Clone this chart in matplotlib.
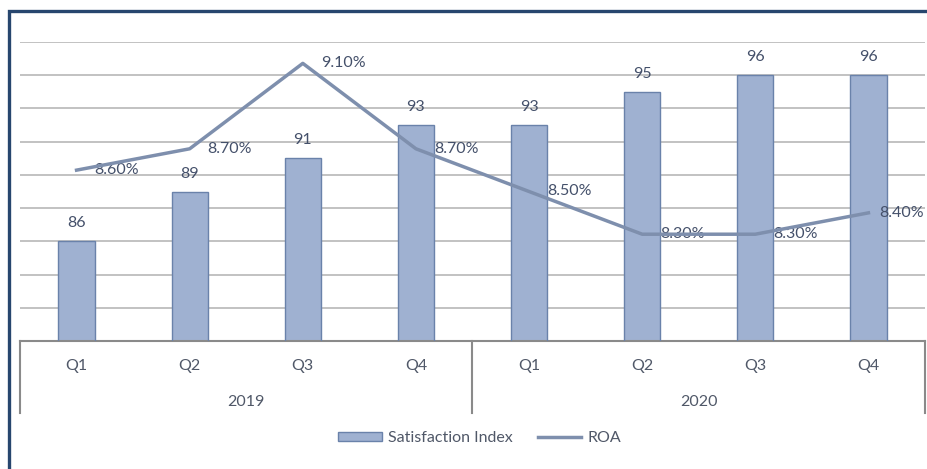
import matplotlib
matplotlib.use("Agg")
from matplotlib import pyplot as plt
from matplotlib.patches import Patch, Rectangle
from matplotlib.lines import Line2D
from matplotlib.legend_handler import HandlerTuple
import matplotlib.transforms as mtransforms

# Данные графика
quarters = ["Q1", "Q2", "Q3", "Q4", "Q1", "Q2", "Q3", "Q4"]
years = ["2019", "2020"]
satisfaction = [86, 89, 91, 93, 93, 95, 96, 96]
roa = [8.6, 8.7, 9.1, 8.7, 8.5, 8.3, 8.3, 8.4]

plt.rcParams["font.family"] = ["Lato", "DejaVu Sans"]
plt.rcParams["hatch.linewidth"] = 0.35

W, H = 928, 469
fig = plt.figure(figsize=(W / 100, H / 100), dpi=100)
fig.patch.set_facecolor("white")

# Положение области построения в пикселях
left, right, top, bottom = 20, 925, 42, 341
ax = fig.add_axes([left / W, 1 - bottom / H, (right - left) / W, (bottom - top) / H])

bar_face = "#7F96C0"
hatch_col = "#ABBBD8"
bar_edge = "#6A82AA"
line_col = "#7E8FAD"
text_col = "#44506A"
hatch = "-" * 25
fs = 11.5

x = list(range(len(satisfaction)))
ax.bar(x, satisfaction, width=0.32, color=bar_face, edgecolor=hatch_col,
       hatch=hatch, linewidth=0, zorder=2)
ax.bar(x, satisfaction, width=0.32, fill=False, edgecolor=bar_edge,
       linewidth=1.0, zorder=3)

ax.set_xlim(-0.5, len(x) - 0.5)
ax.set_ylim(80, 98)
ax.set_yticks(range(80, 99, 2))
ax.yaxis.grid(True, color="#C2C2C2", linewidth=1.4, zorder=0)
ax.set_axisbelow(True)
for s in ["top", "left", "right"]:
    ax.spines[s].set_visible(False)
ax.spines["bottom"].set_color("#8A8A8A")
ax.spines["bottom"].set_linewidth(1.5)

for xi, v in zip(x, satisfaction):
    ax.annotate(str(v), (xi, v), xytext=(0, 18), textcoords="offset pixels",
                ha="center", va="center", fontsize=fs, color=text_col)

# Подписи оси категорий
trans = mtransforms.blended_transform_factory(ax.transData, ax.transAxes)
px = 1 / (bottom - top)
for xi, q in zip(x, quarters):
    ax.text(xi, -25 * px, q, transform=trans, ha="center", va="center",
            fontsize=fs, color="#505868")
for i, yr in enumerate(years):
    ax.text(i * 4 + 1.5, -61 * px, yr, transform=trans, ha="center", va="center",
            fontsize=fs, color="#505868")
for xs in [-0.5, 3.5, 7.5]:
    ax.add_line(Line2D([xs, xs], [0, -72 * px], transform=trans, color="#8A8A8A",
                       linewidth=1.5, clip_on=False))

# ROA на вспомогательной оси
ax2 = ax.twinx()
ax2.plot(x, roa, color=line_col, linewidth=2.5, zorder=4)
ax2.set_ylim(7.8, 9.2)
ax2.axis("off")
for xi, v in zip(x, roa):
    # последняя подпись у края рисунка, чуть сдвигаем влево, чтобы влезла
    dx = 18 if xi < len(x) - 1 else 11
    ax2.annotate(f"{v:.2f}%", (xi, v), xytext=(dx, 0), textcoords="offset pixels",
                 ha="left", va="center", fontsize=fs, color=text_col,
                 annotation_clip=False)

# twinx снова включает засечки слева, убираем
ax.tick_params(left=False, labelleft=False, right=False, labelright=False,
               bottom=False, labelbottom=False)

# Легенда
h_bar = (Patch(facecolor=bar_face, edgecolor=hatch_col, hatch=hatch, linewidth=0),
         Patch(fill=False, edgecolor=bar_edge, linewidth=1.0))
h_line = Line2D([], [], color=line_col, linewidth=2.5)
fig.legend([h_bar, h_line], ["Satisfaction Index", "ROA"],
           handler_map={tuple: HandlerTuple(ndivide=1, pad=0)},
           loc="center", bbox_to_anchor=(480 / W, 1 - 438 / H), ncol=2,
           frameon=False, fontsize=fs, labelcolor="#505868",
           handlelength=2.7, handleheight=0.5, handletextpad=0.4,
           columnspacing=1.6)

# Рамка
fig.patches.append(Rectangle((9 / W, -0.1), 1.1, 1.1 - 11 / H,
                             transform=fig.transFigure, fill=False,
                             edgecolor="#27466E", linewidth=2.4))

fig.savefig("out.png", dpi=100)
